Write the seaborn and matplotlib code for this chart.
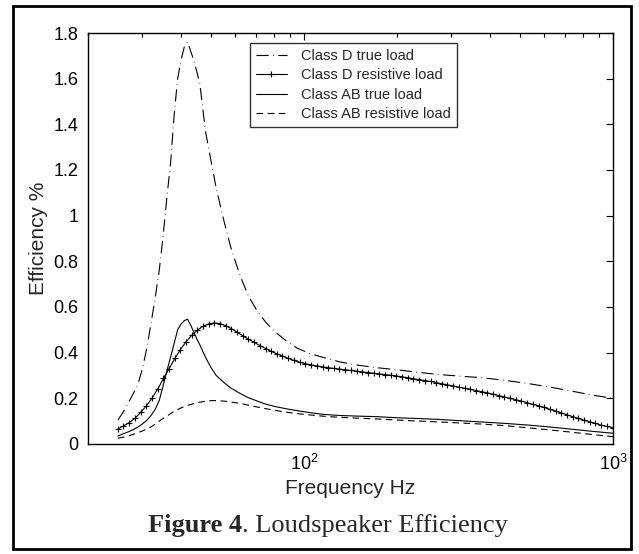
import matplotlib
matplotlib.use("Agg")
import matplotlib.pyplot as plt
from matplotlib.patches import Rectangle
from matplotlib.ticker import LogLocator, NullFormatter
import numpy as np
import pandas as pd
import seaborn as sns

# Frequencies (Hz)
freq = [25, 26, 27, 28, 29, 30, 31, 32, 33, 34, 35, 36, 37, 38, 39, 40, 41, 42,
        43, 44, 45, 46, 48, 50, 52, 55, 58, 62, 66, 70, 75, 80, 87, 95, 105, 115,
        130, 150, 170, 200, 230, 270, 320, 380, 450, 530, 620, 720, 850, 1000]

# Efficiency % for each curve
d_true = [0.105, 0.14, 0.18, 0.22, 0.26, 0.33, 0.42, 0.53, 0.64, 0.76, 0.91, 1.08,
          1.23, 1.44, 1.60, 1.68, 1.74, 1.76, 1.72, 1.68, 1.63, 1.58, 1.37, 1.24,
          1.12, 0.98, 0.86, 0.74, 0.65, 0.59, 0.535, 0.495, 0.455, 0.42, 0.395, 0.38,
          0.36, 0.345, 0.335, 0.325, 0.315, 0.305, 0.297, 0.29, 0.278, 0.265, 0.25,
          0.234, 0.215, 0.20]
ab_true = [0.035, 0.045, 0.053, 0.063, 0.074, 0.088, 0.104, 0.125, 0.152, 0.19,
           0.255, 0.32, 0.38, 0.44, 0.50, 0.525, 0.54, 0.547, 0.52, 0.49, 0.46,
           0.435, 0.38, 0.335, 0.30, 0.27, 0.245, 0.222, 0.203, 0.19, 0.175, 0.165,
           0.155, 0.146, 0.137, 0.13, 0.125, 0.122, 0.12, 0.115, 0.112, 0.108,
           0.102, 0.096, 0.09, 0.083, 0.075, 0.066, 0.056, 0.047]
ab_res = [0.025, 0.03, 0.035, 0.042, 0.05, 0.057, 0.066, 0.075, 0.087, 0.10, 0.112,
          0.122, 0.133, 0.143, 0.151, 0.158, 0.164, 0.169, 0.173, 0.177, 0.18,
          0.183, 0.187, 0.19, 0.19, 0.188, 0.184, 0.178, 0.17, 0.163, 0.155, 0.148,
          0.14, 0.133, 0.127, 0.122, 0.117, 0.113, 0.11, 0.105, 0.101, 0.097,
          0.092, 0.087, 0.08, 0.071, 0.062, 0.053, 0.042, 0.032]

# Class D resistive load is sampled densely (one "+" per sample)
freq_res = [25, 26, 27.2, 28.4, 29.6, 30.9, 32.2, 33.6, 35.1, 36.6, 38.2, 39.8,
            41.5, 43.3, 45.2, 47.1, 49.2, 51.3, 53.5, 55.8, 58.2, 60.7, 63.4, 66.1,
            69, 72, 75.1, 78.3, 81.7, 85.2, 88.9, 92.8, 96.8, 101, 105, 110, 115,
            120, 125, 130, 136, 142, 148, 154, 161, 168, 175, 183, 191, 199, 208,
            217, 226, 236, 246, 257, 268, 279, 291, 304, 317, 331, 345, 360, 376,
            392, 409, 427, 445, 464, 484, 505, 527, 550, 574, 599, 625, 652, 680,
            709, 740, 772, 806, 841, 877, 915, 955, 1000]
d_res = [0.066, 0.078, 0.094, 0.113, 0.138, 0.167, 0.200, 0.240, 0.287, 0.330,
         0.375, 0.413, 0.447, 0.476, 0.499, 0.515, 0.526, 0.530, 0.527, 0.518,
         0.505, 0.490, 0.474, 0.459, 0.445, 0.431, 0.418, 0.406, 0.395, 0.385,
         0.375, 0.366, 0.358, 0.352, 0.347, 0.342, 0.338, 0.334, 0.331, 0.328,
         0.325, 0.322, 0.319, 0.316, 0.313, 0.310, 0.307, 0.304, 0.301, 0.298,
         0.294, 0.290, 0.286, 0.282, 0.278, 0.274, 0.269, 0.264, 0.259, 0.254,
         0.249, 0.244, 0.239, 0.234, 0.229, 0.224, 0.218, 0.212, 0.206, 0.200,
         0.194, 0.188, 0.181, 0.174, 0.167, 0.160, 0.152, 0.144, 0.136, 0.128,
         0.120, 0.112, 0.104, 0.097, 0.090, 0.083, 0.077, 0.071]

labels = ["Class D true load", "Class D resistive load",
          "Class AB true load", "Class AB resistive load"]

df = pd.DataFrame({"freq": freq, labels[0]: d_true,
                   labels[2]: ab_true, labels[3]: ab_res})
df_res = pd.DataFrame({"freq": freq_res, labels[1]: d_res})

sns.set_style("white")
plt.rcParams["font.family"] = ["Liberation Sans", "DejaVu Sans"]
plt.rcParams["mathtext.fontset"] = "custom"
plt.rcParams["mathtext.rm"] = "Liberation Sans"

fig = plt.figure(figsize=(6.39, 5.54), dpi=100)
ax = fig.add_axes([88 / 639, 1 - 444 / 554, 525 / 639, 411 / 554])

styles = [
    dict(linestyle=(0, (11, 4, 0.6, 4)), marker="None"),
    dict(linestyle="-", marker="+", markersize=4),
    dict(linestyle="-", marker="None"),
    dict(linestyle=(0, (6, 4)), marker="None"),
]
for lab, st in zip(labels, styles):
    data = df_res if lab == labels[1] else df
    # seaborn defaults marker edges to white, so force black
    sns.lineplot(data=data, x="freq", y=lab, ax=ax, color="black", linewidth=0.8,
                 markeredgecolor="black", markeredgewidth=0.8)
    line = ax.lines[-1]
    line.set(label=lab, **st)

ax.set_xscale("log")
ax.set_xlim(20, 1000)
ax.set_ylim(0, 1.8)
ax.set_yticks(np.arange(0, 1.81, 0.2))
ax.set_yticklabels(["0", "0.2", "0.4", "0.6", "0.8", "1", "1.2", "1.4", "1.6", "1.8"])
ax.xaxis.set_major_locator(LogLocator(base=10, numticks=5))
ax.xaxis.set_minor_locator(LogLocator(base=10, subs=np.arange(2, 10), numticks=20))
ax.xaxis.set_minor_formatter(NullFormatter())
ax.tick_params(which="both", direction="in", top=True, right=True,
               labelsize=13, color="black", labelcolor="black")
ax.tick_params(which="major", length=5, width=0.8, pad=7)
ax.tick_params(which="minor", length=3, width=0.8)
for s in ax.spines.values():
    s.set_color("black")
    s.set_linewidth(1.0)

ax.set_xlabel("Frequency Hz", fontsize=15, labelpad=4)
ax.set_ylabel("Efficiency %", fontsize=15, labelpad=4)

leg = ax.legend(loc="upper left", bbox_to_anchor=(0.309, 0.976), fontsize=10.5,
                frameon=True, fancybox=False, handlelength=2.1, labelspacing=0.38,
                borderpad=0.4, handletextpad=1.0, borderaxespad=0)
leg.get_frame().set_edgecolor("black")
leg.get_frame().set_linewidth(1.0)

# outer frame around figure and caption
fig.patches.append(Rectangle((13 / 639, 1 - 549 / 554), 618 / 639, 543 / 554,
                             transform=fig.transFigure, fill=False,
                             edgecolor="black", linewidth=2))

cap_y = 1 - 532 / 554
t1 = fig.text(148 / 639, cap_y, "Figure 4", fontsize=19, fontweight="bold",
              family="Liberation Serif", ha="left", va="baseline")
fig.canvas.draw()
bb = t1.get_window_extent()
fig.text(bb.x1 / fig.bbox.width, cap_y, ". Loudspeaker Efficiency", fontsize=19,
         family="Liberation Serif", ha="left", va="baseline")

fig.savefig("out.png", dpi=100)
